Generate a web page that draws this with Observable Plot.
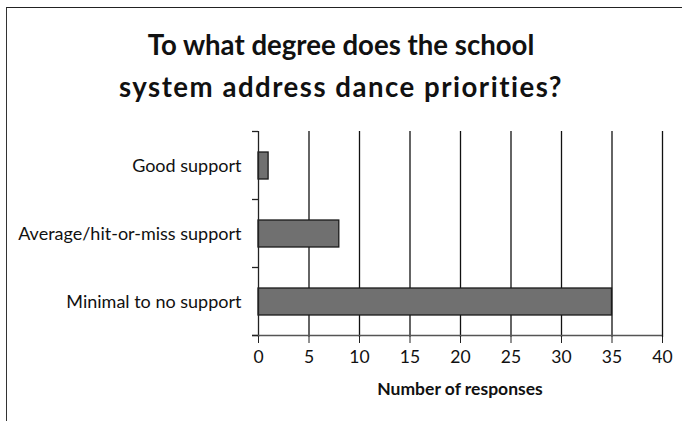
<!DOCTYPE html>
<html>
<head>
<meta charset="utf-8">
<script src="https://cdn.jsdelivr.net/npm/d3@7"></script>
<script src="https://cdn.jsdelivr.net/npm/@observablehq/plot@0.6"></script>
<style>
  html, body { margin: 0; padding: 0; background: #fff; }
  #frame {
    position: relative; width: 682px; height: 421px; overflow: hidden;
    font-family: Lato, "Open Sans", sans-serif; color: #111;
  }
  #border {
    position: absolute; left: 6px; top: 7px; right: -5px; bottom: -5px;
    border-top: 1.5px solid #222; border-left: 1.5px solid #333;
  }
  #title {
    position: absolute; left: 0; width: 682px; top: 24px; text-align: center;
    font-weight: 700; font-size: 27.6px; line-height: 42px; color: #111;
  }
  #title .l2 { letter-spacing: 1.5px; }
  #chart { position: absolute; left: 0; top: 115px; }
</style>
</head>
<body>
<div id="frame">
  <div id="border"></div>
  <div id="title"><div class="l1">To what degree does the school</div><div class="l2">system address dance priorities?</div></div>
  <div id="chart"></div>
</div>
<script>
const categories = ["Good support", "Average/hit-or-miss support", "Minimal to no support"];
const responses = [1, 8, 35];
const xTicks = [0, 5, 10, 15, 20, 25, 30, 35, 40];
const xLabel = "Number of responses";

const data = categories.map((c, i) => ({category: c, value: responses[i]}));

const plot = Plot.plot({
  width: 682,
  height: 306,
  marginLeft: 258,
  marginRight: 20,
  marginTop: 16,
  marginBottom: 84,
  style: {fontFamily: "Lato, 'Open Sans', sans-serif", fontSize: "17.5px", color: "#111", background: "transparent"},
  x: {domain: [0, 40], ticks: xTicks},
  y: {domain: categories, paddingInner: 0.6, paddingOuter: 0.3},
  marks: [
    Plot.ruleX(xTicks.filter(d => d > 0), {stroke: "#111", strokeWidth: 1.3}),
    Plot.barX(data, {x: "value", y: "category", fill: "#707070", stroke: "#1a1a1a", strokeWidth: 1.3}),
    Plot.axisX({ticks: xTicks, tickSize: 6, tickPadding: 7, stroke: "#222", label: null, fontSize: 17.5}),
    Plot.axisY({tickSize: 0, tickPadding: 17, label: null, fontSize: 18}),
    Plot.ruleX([0], {stroke: "#222", strokeWidth: 1.3})
  ]
});
document.getElementById("chart").appendChild(plot);

// Excel-style axis line and category boundary ticks, positioned via the library's scales
const xs = plot.scale("x"), ys = plot.scale("y");
const svg = d3.select(plot);
const x0 = xs.apply(0), x40 = xs.apply(40);
const step = ys.step, bw = ys.bandwidth;
const firstTop = ys.apply(categories[0]) - (step - bw) / 2;
const bottom = ys.apply(categories[categories.length - 1]) + bw + (step - bw) / 2;
svg.append("line").attr("x1", x0 - 6).attr("x2", x40).attr("y1", bottom).attr("y2", bottom)
  .attr("stroke", "#555").attr("stroke-width", 1.5);
for (let i = 0; i <= categories.length; i++) {
  const yy = firstTop + i * step;
  svg.append("line").attr("x1", x0 - 6).attr("x2", x0).attr("y1", yy).attr("y2", yy)
    .attr("stroke", "#222").attr("stroke-width", 1.3);
}
svg.append("text").attr("x", (x0 + x40) / 2).attr("y", bottom + 59)
  .attr("text-anchor", "middle").attr("font-weight", 700).attr("font-size", 17.5)
  .attr("fill", "#111").text(xLabel);
</script>
</body>
</html>
